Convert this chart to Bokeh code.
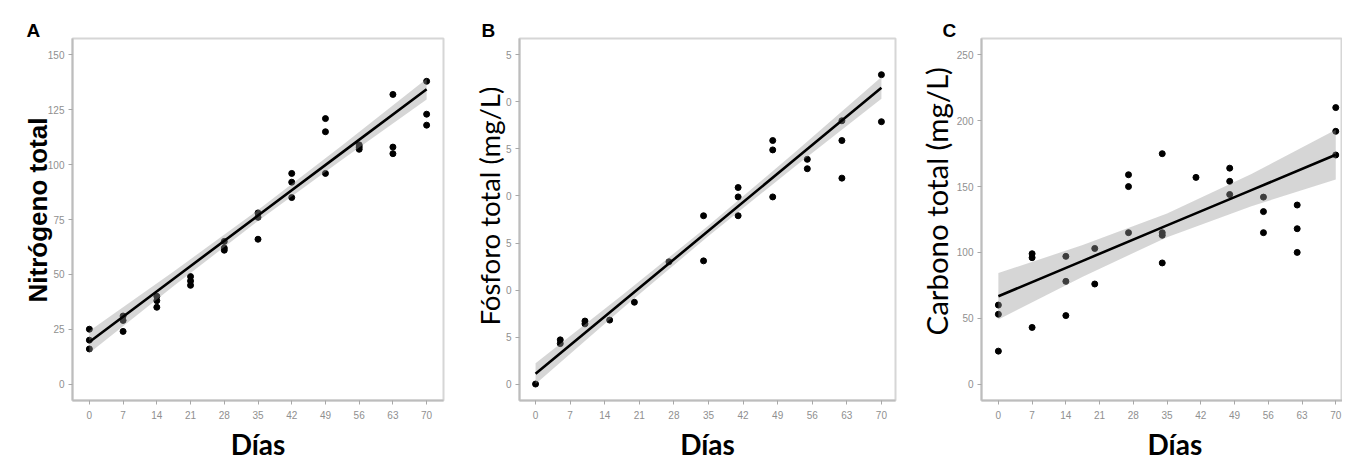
from bokeh.plotting import figure
from bokeh.layouts import row
from bokeh.models import Range1d, FixedTicker, Title
from bokeh.embed import file_html
from bokeh.resources import INLINE

# ---------------- data ----------------
x_ticks = [0, 7, 14, 21, 28, 35, 42, 49, 56, 63, 70]
x_tick_labels = ["0", "7", "14", "21", "28", "35", "42", "49", "56", "63", "70"]

days_a = [0, 0, 0, 7, 7, 7, 14, 14, 14, 21, 21, 21, 28, 28, 28, 35, 35, 35,
          42, 42, 42, 49, 49, 49, 56, 56, 56, 63, 63, 63, 70, 70, 70]
nitrogeno = [25, 20, 16, 31, 29, 24, 40, 38, 35, 49, 47, 45, 65, 62, 61, 78, 76, 66,
             96, 92, 85, 121, 115, 96, 109, 108, 107, 132, 108, 105, 138, 123, 118]
ticks_a = [0, 25, 50, 75, 100, 125, 150]
tick_labels_a = ["0", "25", "50", "75", "100", "125", "150"]

days_b = [0, 5, 5, 10, 10, 15, 20, 27, 34, 34, 41, 41, 41, 48, 48, 48,
          55, 55, 62, 62, 62, 70, 70]
fosforo = [0, 4.7, 4.3, 6.7, 6.4, 6.8, 8.7, 13.0, 17.9, 13.1, 20.9, 19.9, 17.9,
           25.9, 24.9, 19.9, 23.9, 22.9, 28.0, 25.9, 21.9, 32.9, 27.9]
ticks_b = [0, 5, 10, 15, 20, 25, 30, 35]
tick_labels_b = ["0", "5", "0", "5", "0", "5", "0", "5"]

days_c = [0, 0, 0, 7, 7, 7, 14, 14, 14, 20, 20, 27, 27, 27, 34, 34, 34, 34,
          41, 48, 48, 48, 55, 55, 55, 62, 62, 62, 70, 70, 70]
carbono = [60, 53, 25, 99, 96, 43, 97, 78, 52, 103, 76, 159, 150, 115, 175, 115, 113, 92,
           157, 164, 154, 144, 142, 131, 115, 136, 118, 100, 210, 192, 174]
ticks_c = [0, 50, 100, 150, 200, 250]
tick_labels_c = ["0", "50", "100", "150", "200", "250"]

# fitted regression line and 95% band
fit_days = [0, 17.5, 35, 52.5, 70]
fit_a = [19.2, 48.0, 76.8, 105.6, 134.4]
fit_a_lo = [14.2, 44.7, 74.3, 102.4, 129.7]
fit_a_hi = [24.2, 51.3, 79.3, 108.8, 139.1]
fit_b = [1.1, 8.7, 16.3, 23.9, 31.5]
fit_b_lo = [0.0, 8.0, 15.75, 23.15, 30.35]
fit_b_hi = [2.2, 9.45, 16.85, 24.65, 32.65]
fit_c = [66.7, 93.6, 120.5, 147.3, 174.2]
fit_c_lo = [49.1, 81.6, 111.5, 135.1, 155.3]
fit_c_hi = [84.3, 105.6, 129.5, 159.5, 193.1]

panel_letters = ["A", "B", "C"]
y_titles = ["Nitrógeno total", "Fósforo total (mg/L)", "Carbono total (mg/L)"]
x_title = "Días"


def make_panel(width, b_left, b_right, xr, yr, days, vals, fit, lo, hi,
               yticks, ytick_labels, ytitle, yfont, ystyle, ysize, ystandoff,
               ybottom, letter, letter_x, xt_align, xt_offset):
    p = figure(width=width, height=472, output_backend="svg", toolbar_location=None,
               x_range=Range1d(*xr), y_range=Range1d(*yr),
               min_border_left=b_left, min_border_right=b_right,
               min_border_top=38, min_border_bottom=72)
    p.xgrid.visible = False
    p.ygrid.visible = False
    p.outline_line_color = "#d6d6d6"
    p.outline_line_width = 2
    p.background_fill_color = "white"
    p.border_fill_color = "white"

    for ax in (p.xaxis[0], p.yaxis[0]):
        ax.axis_line_color = "#bdbdbd"
        ax.axis_line_width = 2
        ax.major_tick_line_color = "#a8a8a8"
        ax.major_tick_out = 4
        ax.major_tick_in = 0
        ax.minor_tick_line_color = None
        ax.major_label_text_font = "Liberation Sans"
        ax.major_label_text_font_size = "10px"
        ax.major_label_text_color = "#8f8f8f"
    p.xaxis.major_label_standoff = 6
    p.yaxis.major_label_standoff = 4

    p.xaxis.ticker = FixedTicker(ticks=x_ticks)
    p.xaxis.major_label_overrides = {t: l for t, l in zip(x_ticks, x_tick_labels)}
    p.yaxis.ticker = FixedTicker(ticks=yticks)
    p.yaxis.major_label_overrides = {t: l for t, l in zip(yticks, ytick_labels)}

    p.scatter(days, vals, size=6, color="black")
    p.varea(x=fit_days, y1=lo, y2=hi, fill_color="#999999", fill_alpha=0.4)
    p.line(fit_days, fit, line_color="black", line_width=2.6)

    # panel letter
    p.title.text = letter
    p.title.align = "left"
    p.title.offset = letter_x
    p.title.text_font = "Liberation Sans"
    p.title.text_font_style = "bold"
    p.title.text_font_size = "19px"
    p.title.text_color = "black"
    p.title.standoff = -4

    # y title (starts ybottom px above the frame bottom)
    p.add_layout(Title(text=ytitle, align="left", offset=ybottom,
                       text_font=yfont, text_font_style=ystyle, text_color="black",
                       text_font_size=ysize, standoff=ystandoff), "left")
    # x title
    p.add_layout(Title(text=x_title, align=xt_align, offset=xt_offset,
                       text_font="Lato", text_font_style="bold", text_color="black",
                       text_font_size="28px", standoff=6), "below")
    return p


pa = make_panel(455, 72, 12, (-3.5, 73.5), (-7.5, 157.5), days_a, nitrogeno,
                fit_a, fit_a_lo, fit_a_hi, ticks_a, tick_labels_a, y_titles[0],
                "Liberation Sans", "bold", "26px", -16, 98, panel_letters[0], -46,
                "center", 0)
pb = make_panel(452, 64, 12, (-3.25, 72.85), (-1.75, 36.75), days_b, fosforo,
                fit_b, fit_b_lo, fit_b_hi, ticks_b, tick_labels_b, y_titles[1],
                "Lato", "normal", "27.5px", -7, 75, panel_letters[1], -38,
                "center", 0)
pc = make_panel(435, 74, 0, (-3.5, 71.4), (-12.5, 262.5), days_c, carbono,
                fit_c, fit_c_lo, fit_c_hi, ticks_c, tick_labels_c, y_titles[2],
                "Lato", "normal", "29.4px", -1, 65, panel_letters[2], -39,
                "left", 166)

layout = row(pa, pb, pc)
open("out.html", "w").write(file_html(layout, INLINE))
